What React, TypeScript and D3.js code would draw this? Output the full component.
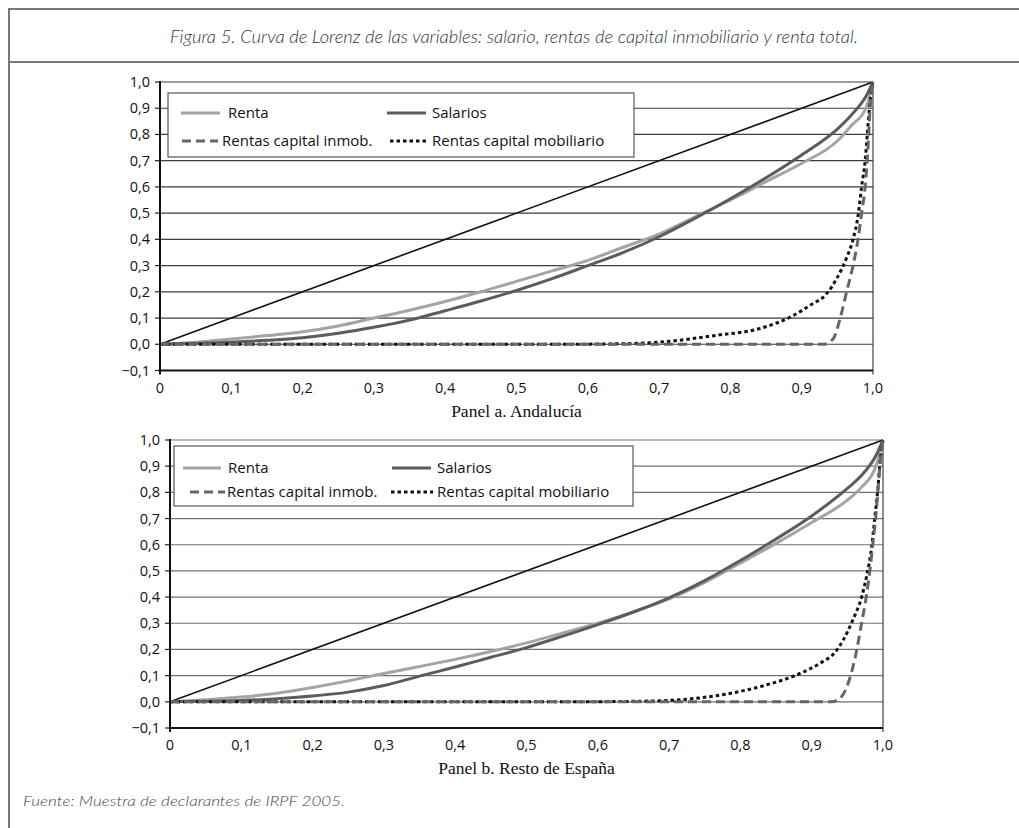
import React from "react";
import * as d3 from "d3";

// Lorenz curves
const lorenzX = [0, 0.05, 0.1, 0.15, 0.2, 0.25, 0.3, 0.35, 0.4, 0.45, 0.5, 0.55, 0.6, 0.65, 0.7, 0.75, 0.8, 0.85, 0.9, 0.95, 0.97, 0.99, 1];

const rentaA = [0, 0.008, 0.02, 0.033, 0.048, 0.07, 0.1, 0.13, 0.163, 0.2, 0.24, 0.28, 0.32, 0.37, 0.42, 0.485, 0.55, 0.62, 0.69, 0.775, 0.835, 0.9, 1];
const salariosA = [0, 0.003, 0.008, 0.015, 0.025, 0.042, 0.065, 0.092, 0.128, 0.165, 0.205, 0.25, 0.3, 0.35, 0.41, 0.48, 0.555, 0.635, 0.722, 0.82, 0.875, 0.945, 1];

const inmobAX = [0, 0.93, 0.944, 0.954, 0.963, 0.972, 0.979, 0.984, 0.989, 0.993, 0.996, 1];
const inmobA = [0, 0, 0.02, 0.1, 0.2, 0.3, 0.4, 0.5, 0.6, 0.75, 0.9, 1];
const mobilAX = [0, 0.55, 0.65, 0.7, 0.78, 0.84, 0.884, 0.912, 0.935, 0.949, 0.963, 0.972, 0.979, 0.984, 0.989, 0.992, 0.995, 1];
const mobilA = [0, 0, 0.002, 0.008, 0.034, 0.059, 0.104, 0.149, 0.193, 0.25, 0.33, 0.4, 0.49, 0.6, 0.7, 0.8, 0.9, 1];

const rentaB = [0, 0.008, 0.018, 0.033, 0.055, 0.08, 0.108, 0.135, 0.162, 0.192, 0.225, 0.262, 0.3, 0.343, 0.393, 0.456, 0.53, 0.605, 0.685, 0.77, 0.82, 0.9, 1];
const salariosB = [0, 0.002, 0.005, 0.012, 0.022, 0.037, 0.062, 0.098, 0.133, 0.17, 0.207, 0.25, 0.295, 0.343, 0.397, 0.463, 0.54, 0.622, 0.71, 0.815, 0.865, 0.94, 1];

const inmobBX = [0, 0.928, 0.942, 0.951, 0.961, 0.97, 0.977, 0.982, 0.986, 0.99, 0.993, 0.996, 1];
const inmobB = [0, 0, 0.02, 0.07, 0.17, 0.3, 0.41, 0.51, 0.61, 0.71, 0.81, 0.91, 1];
const mobilBX = [0, 0.55, 0.675, 0.743, 0.781, 0.837, 0.879, 0.912, 0.933, 0.944, 0.958, 0.97, 0.977, 0.984, 0.988, 0.993, 0.996, 1];
const mobilB = [0, 0, 0.003, 0.015, 0.03, 0.065, 0.103, 0.148, 0.19, 0.235, 0.315, 0.4, 0.48, 0.59, 0.69, 0.82, 0.92, 1];

const equality = [0, 1];

const yTicks = [-0.1, 0, 0.1, 0.2, 0.3, 0.4, 0.5, 0.6, 0.7, 0.8, 0.9, 1];
const xTicks = [0, 0.1, 0.2, 0.3, 0.4, 0.5, 0.6, 0.7, 0.8, 0.9, 1];

const seriesNames = ["Renta", "Salarios", "Rentas capital inmob.", "Rentas capital mobiliario"];

const titleText = "Figura 5. Curva de Lorenz de las variables: salario, rentas de capital inmobiliario y renta total.";
const sourceText = "Fuente: Muestra de declarantes de IRPF 2005.";

const fmt = (v: number) => (v === 0 ? "0" : d3.format(".1f")(v).replace(".", ","));
const fmtY = (v: number) => d3.format(".1f")(v).replace(".", ",");

const zip = (xs: number[], ys: number[]) => xs.map((x, i) => [x, ys[i]] as [number, number]);

const FONT = "Lato, 'Open Sans', sans-serif";
const LABEL_FONT = "'Open Sans', Lato, sans-serif";

const Panel = ({ x0, yTop, yBottom, gridColor, label, renta, salarios, inmob, mobil, legend }: any) => {
  const x = d3.scaleLinear().domain([0, 1]).range([x0, x0 + 713]);
  const y = d3.scaleLinear().domain([-0.1, 1]).range([yBottom, yTop]);
  const line = d3
    .line<[number, number]>()
    .x(d => x(d[0]))
    .y(d => y(d[1]))
    .curve(d3.curveMonotoneX);
  const straight = d3
    .line<[number, number]>()
    .x(d => x(d[0]))
    .y(d => y(d[1]));

  const styles = [
    { stroke: "#a4a4a4", dash: null },
    { stroke: "#5c5c5c", dash: null },
    { stroke: "#666666", dash: "9,5" },
    { stroke: "#111111", dash: "3.5,3" },
  ];

  return (
    <g>
      {/* gridlines */}
      {yTicks.filter(v => v >= 0).map(v => (
        <line key={v} x1={x(0)} x2={x(1)} y1={y(v)} y2={y(v)} stroke={gridColor} strokeWidth={1.2} />
      ))}
      <line x1={x(1)} x2={x(1)} y1={y(1)} y2={y(-0.1) + 4} stroke="#444" strokeWidth={1.2} />

      {/* y axis */}
      {yTicks.map(v => (
        <g key={v}>
          <line x1={x0 - 5} x2={x0} y1={y(v)} y2={y(v)} stroke="#222" strokeWidth={1.2} />
          <text x={x0 - 10} y={y(v) + 5} textAnchor="end" fontFamily={LABEL_FONT} fontSize={14.5} fill="#111">
            {fmtY(v)}
          </text>
        </g>
      ))}
      {/* x axis labels */}
      {xTicks.map(v => (
        <text key={v} x={x(v)} y={yBottom + 22} textAnchor="middle" fontFamily={LABEL_FONT} fontSize={14.5} fill="#111">
          {fmt(v)}
        </text>
      ))}

      {/* series */}
      <path d={straight(zip(equality, equality)) || ""} fill="none" stroke="#111" strokeWidth={1.6} />
      <path d={line(zip(lorenzX, renta)) || ""} fill="none" stroke={styles[0].stroke} strokeWidth={3} />
      <path d={line(zip(lorenzX, salarios)) || ""} fill="none" stroke={styles[1].stroke} strokeWidth={3} />
      <path d={line(mobil) || ""} fill="none" stroke={styles[3].stroke} strokeWidth={3} strokeDasharray={styles[3].dash} />
      <path d={line(inmob) || ""} fill="none" stroke={styles[2].stroke} strokeWidth={3} strokeDasharray={styles[2].dash} />

      {/* axes lines */}
      <line x1={x0} x2={x0} y1={yTop - 1} y2={yBottom + 4} stroke="#111" strokeWidth={2} />
      <line x1={x0} x2={x(1)} y1={yBottom} y2={yBottom} stroke="#111" strokeWidth={2} />

      {/* legend */}
      <rect x={legend.x} y={legend.y} width={legend.w} height={legend.h} fill="#fff" stroke="#555" strokeWidth={1.2} />
      {seriesNames.map((name, i) => {
        const item = legend.items[i];
        return (
          <g key={name}>
            <line
              x1={item.lx1}
              x2={item.lx2}
              y1={item.y}
              y2={item.y}
              stroke={styles[i].stroke}
              strokeWidth={3}
              strokeDasharray={styles[i].dash || undefined}
            />
            <text x={item.tx} y={item.y + 5} fontFamily={LABEL_FONT} fontSize={15} fill="#111">
              {name}
            </text>
          </g>
        );
      })}

      <text
        x={x(0.5)}
        y={yBottom + 46}
        textAnchor="middle"
        fontFamily="'Liberation Serif', 'Times New Roman', serif"
        fontSize={17.5}
        fill="#111"
      >
        {label}
      </text>
    </g>
  );
};

const legendA = {
  x: 168,
  y: 93,
  w: 466,
  h: 64,
  items: [
    { lx1: 181, lx2: 220, tx: 228, y: 113 },
    { lx1: 387, lx2: 426, tx: 432, y: 113 },
    { lx1: 182, lx2: 218, tx: 222, y: 141 },
    { lx1: 390, lx2: 429, tx: 432, y: 141 },
  ],
};

const legendB = {
  x: 174,
  y: 446,
  w: 459,
  h: 60,
  items: [
    { lx1: 183, lx2: 221, tx: 228, y: 468 },
    { lx1: 392, lx2: 431, tx: 437, y: 468 },
    { lx1: 190, lx2: 225, tx: 227, y: 492 },
    { lx1: 391, lx2: 433, tx: 437, y: 492 },
  ],
};

const App = () => {
  return (
    <svg
      width={1019}
      height={828}
      style={{ position: "absolute", left: 0, top: 0, background: "#fff" }}
    >
      {/* frame */}
      <line x1={9} x2={9} y1={8} y2={828} stroke="#777" strokeWidth={2} />
      <line x1={8} x2={1019} y1={9} y2={9} stroke="#777" strokeWidth={2} />
      <line x1={8} x2={1019} y1={62} y2={62} stroke="#777" strokeWidth={2} />

      <text
        x={514}
        y={43}
        textAnchor="middle"
        fontFamily={FONT}
        fontStyle="italic"
        fontWeight={300}
        fontSize={17}
        fill="#333"
        textLength={688}
        lengthAdjust="spacingAndGlyphs"
      >
        {titleText}
      </text>

      <Panel
        x0={160}
        yTop={82}
        yBottom={370.5}
        gridColor="#3c3c3c"
        label="Panel a. Andalucía"
        renta={rentaA}
        salarios={salariosA}
        inmob={zip(inmobAX, inmobA)}
        mobil={zip(mobilAX, mobilA)}
        legend={legendA}
      />
      <Panel
        x0={170}
        yTop={440}
        yBottom={728}
        gridColor="#707070"
        label="Panel b. Resto de España"
        renta={rentaB}
        salarios={salariosB}
        inmob={zip(inmobBX, inmobB)}
        mobil={zip(mobilBX, mobilB)}
        legend={legendB}
      />

      <text
        x={23}
        y={806}
        fontFamily={FONT}
        fontStyle="italic"
        fontWeight={300}
        fontSize={14}
        fill="#444"
        textLength={322}
        lengthAdjust="spacingAndGlyphs"
      >
        {sourceText}
      </text>
    </svg>
  );
};

export default App;
